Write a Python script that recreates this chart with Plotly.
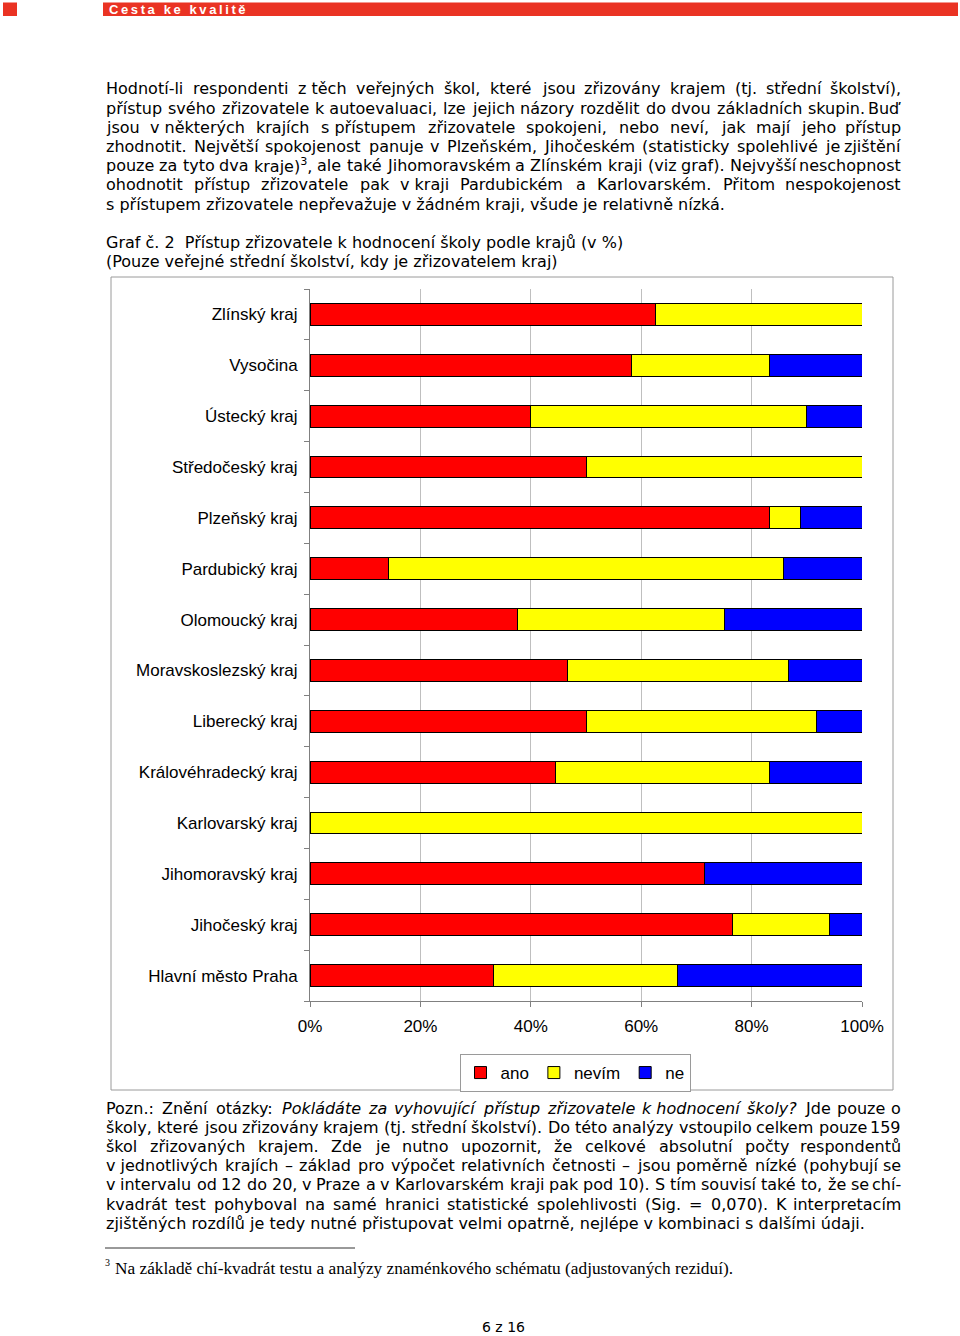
import unicodedata
import re
import plotly.graph_objects as go

W, H = 960, 1336

# --- chart data (share of answers, %) ---
regions = ["Hlavní město Praha", "Jihočeský kraj", "Jihomoravský kraj", "Karlovarský kraj",
           "Královéhradecký kraj", "Liberecký kraj", "Moravskoslezský kraj", "Olomoucký kraj",
           "Pardubický kraj", "Plzeňský kraj", "Středočeský kraj", "Ústecký kraj",
           "Vysočina", "Zlínský kraj"]
ano = [33.3, 76.5, 71.4, 0.0, 44.4, 50.0, 46.7, 37.5, 14.3, 83.3, 50.0, 40.0, 58.3, 62.5]
nevim = [33.3, 17.6, 0.0, 100.0, 38.9, 41.7, 40.0, 37.5, 71.4, 5.6, 50.0, 50.0, 25.0, 37.5]
ne = [33.4, 5.9, 28.6, 0.0, 16.7, 8.3, 13.3, 25.0, 14.3, 11.1, 0.0, 10.0, 16.7, 0.0]
tick_vals = [0, 20, 40, 60, 80, 100]
tick_text = ["0%", "20%", "40%", "60%", "80%", "100%"]

# --- page text ---
para1 = [
    ("Hodnotí-li respondenti z\u00a0těch veřejných škol, které jsou zřizovány krajem (tj. střední školství),", True),
    ("přístup svého zřizovatele k\u00a0autoevaluaci, lze jejich názory rozdělit do dvou základních skupin. Buď", True),
    ("jsou v\u00a0některých krajích s\u00a0přístupem zřizovatele spokojeni, nebo neví, jak mají jeho přístup", True),
    ("zhodnotit. Největší spokojenost panuje v Plzeňském, Jihočeském (statisticky spolehlivé je zjištění", True),
    ("pouze za tyto dva kraje)<sup>3</sup>, ale také Jihomoravském a Zlínském kraji (viz graf). Nejvyšší neschopnost", True),
    ("ohodnotit přístup zřizovatele pak v\u00a0kraji Pardubickém a Karlovarském. Přitom nespokojenost", True),
    ("s\u00a0přístupem zřizovatele nepřevažuje v\u00a0žádném kraji, všude je relativně nízká.", False),
]
caption = ["Graf č. 2\u00a0\u00a0Přístup zřizovatele k\u00a0hodnocení školy podle krajů (v %)",
           "(Pouze veřejné střední školství, kdy je zřizovatelem kraj)"]
note = [
    ("Pozn.: Znění otázky: <i>Pokládáte</i> <i>za</i> <i>vyhovující</i> <i>přístup</i> <i>zřizovatele</i> "
     "<i>k\u00a0hodnocení</i> <i>školy?</i> Jde pouze o", True),
    ("školy, které jsou zřizovány krajem (tj. střední školství). Do této analýzy vstoupilo celkem pouze 159", True),
    ("škol zřizovaných krajem. Zde je nutno upozornit, že celkové absolutní počty respondentů", True),
    ("v\u00a0jednotlivých krajích – základ pro výpočet relativních četnosti – jsou poměrně nízké (pohybují se", True),
    ("v intervalu od 12 do 20, v Praze a v Karlovarském kraji pak pod 10). S tím souvisí také to, že se chí-", True),
    ("kvadrát test pohyboval na samé hranici statistické spolehlivosti (Sig. = 0,070). K interpretacím", True),
    ("zjištěných rozdílů je tedy nutné přistupovat velmi opatrně, nejlépe v\u00a0kombinaci s\u00a0dalšími údaji.", False),
]
footnote = "Na základě chí-kvadrát testu a analýzy znaménkového schématu (adjustovaných reziduí)."

# DejaVu Sans advance widths (units of 2048/em), used to justify lines
DV = {" ": 651, "\u00a0": 651, "%": 1946, "(": 799, ")": 799, ",": 651, "-": 739, ".": 651,
      ":": 690, "=": 1716, "?": 1087, "–": 1024,
      "A": 1401, "B": 1405, "C": 1430, "D": 1577, "E": 1294, "F": 1178, "G": 1587, "H": 1540,
      "I": 604, "J": 604, "K": 1343, "L": 1141, "M": 1767, "N": 1532, "O": 1612, "P": 1235,
      "Q": 1612, "R": 1423, "S": 1300, "T": 1251, "U": 1499, "V": 1401, "W": 2025, "X": 1403,
      "Y": 1251, "Z": 1405,
      "a": 1255, "b": 1300, "c": 1126, "d": 1300, "e": 1260, "f": 721, "g": 1300, "h": 1298,
      "i": 569, "j": 569, "k": 1186, "l": 569, "m": 1995, "n": 1298, "o": 1253, "p": 1300,
      "q": 1300, "r": 842, "s": 1067, "t": 803, "u": 1298, "v": 1212, "w": 1675, "x": 1212,
      "y": 1212, "z": 1075}


def text_width(s, size):
    units = 0
    for sp in re.findall(r"<sup>(.*?)</sup>", s):
        units += 0.7 * 1303 * len(sp)
    s = re.sub(r"<sup>.*?</sup>", "", s)
    s = re.sub(r"<[^>]+>", "", s)
    for ch in s:
        if ch.isdigit():
            units += 1303
            continue
        if ch not in DV:
            ch = unicodedata.normalize("NFD", ch)[0]
        units += DV.get(ch, 1200)
    return units / 2048 * size


def px(x, y):
    return x / W, 1 - y / H


BODY = dict(family="DejaVu Sans", size=16, color="black")
LEFT, RIGHT = 105, 902

annotations = []


def add_text(text, x, y, font, anchor="left"):
    ax, ay = px(x, y)
    annotations.append(dict(text=text, x=ax, y=ay, xref="paper", yref="paper",
                            xanchor=anchor, yanchor="middle", showarrow=False,
                            font=font, borderpad=0))


def add_line(text, y, justify):
    if not justify:
        add_text(text, LEFT, y, BODY)
        return
    words = text.split(" ")
    widths = [text_width(w, BODY["size"]) for w in words]
    gap = (RIGHT - LEFT - sum(widths)) / (len(words) - 1)
    x = LEFT
    for i, w in enumerate(words):
        if i == len(words) - 1:
            add_text(w, RIGHT, y, BODY, "right")
        else:
            add_text(w, x, y, BODY)
        x += widths[i] + gap


for i, (t, j) in enumerate(para1):
    add_line(t, 89 + i * 19.2, j)
for i, t in enumerate(caption):
    add_text(t, LEFT, 242 + i * 19.2, BODY)
for i, (t, j) in enumerate(note):
    add_line(t, 1108 + i * 19.2, j)

add_text("3", 104, 1262, dict(family="Liberation Serif", size=10, color="black"))
add_text(footnote, 114, 1268, dict(family="Liberation Serif", size=17.3, color="black"))
add_text("6 z 16", 503, 1327, dict(family="DejaVu Sans", size=14, color="black"), "center")
add_text("\u2009".join(list("Cesta ke kvalitě")), 108, 9.5,
         dict(family="Liberation Sans", size=13, color="white", weight="bold"))


def rect(x0, y0, x1, y1, **kw):
    a0, b0 = px(x0, y0)
    a1, b1 = px(x1, y1)
    return dict(type="rect", xref="paper", yref="paper", x0=a0, y0=b0, x1=a1, y1=b1, **kw)


shapes = [
    rect(3, 2.5, 17, 16, fillcolor="#ea3323", line_width=0),
    rect(103, 2.5, 958, 16, fillcolor="#ea3323", line_width=0),
    rect(111, 277, 893, 1090, line=dict(color="#9a9a9a", width=1)),
]
lx0, ly = px(105, 1248)
lx1, _ = px(355, 1248)
shapes.append(dict(type="line", xref="paper", yref="paper", x0=lx0, x1=lx1, y0=ly, y1=ly,
                   line=dict(color="black", width=0.8)))

fig = go.Figure()
for name, vals, col in [("ano", ano, "#ff0000"), ("nevím", nevim, "#ffff00"), ("ne", ne, "#0000ff")]:
    fig.add_trace(go.Bar(y=regions, x=vals, name=name, orientation="h",
                         marker=dict(color=col, line=dict(color="black", width=1))))

CHART = dict(family="Liberation Sans", size=17, color="black")
fig.update_layout(
    width=W, height=H, autosize=False,
    margin=dict(l=0, r=0, t=0, b=0, autoexpand=False),
    paper_bgcolor="white", plot_bgcolor="white",
    barmode="stack", bargap=0.57,
    font=CHART,
    xaxis=dict(domain=[310 / W, 862 / W], range=[0, 100], tickvals=tick_vals, ticktext=tick_text,
               showgrid=True, gridcolor="#bfbfbf", gridwidth=1, zeroline=False,
               showline=True, linecolor="#808080", linewidth=1, automargin=False,
               ticks="outside", ticklen=5, tickcolor="#808080", ticklabelstandoff=5,
               tickfont=CHART, fixedrange=True),
    yaxis=dict(domain=[1 - 1001 / H, 1 - 289 / H], categoryorder="array", categoryarray=regions,
               showline=True, linecolor="#808080", linewidth=1, showgrid=False, automargin=False,
               ticks="outside", ticklen=5, tickcolor="#808080", tickson="boundaries",
               ticklabelstandoff=8, tickfont=CHART, fixedrange=True),
    legend=dict(orientation="h", x=575 / W, xanchor="center", y=1 - 1054 / H, yanchor="top",
                bordercolor="#9a9a9a", borderwidth=1, font=CHART, itemwidth=30,
                traceorder="normal", bgcolor="white"),
    annotations=annotations,
    shapes=shapes,
)

fig.write_html("out.html", config={"displayModeBar": False},
               post_script="document.body.style.margin='0';document.body.style.overflow='hidden';")
